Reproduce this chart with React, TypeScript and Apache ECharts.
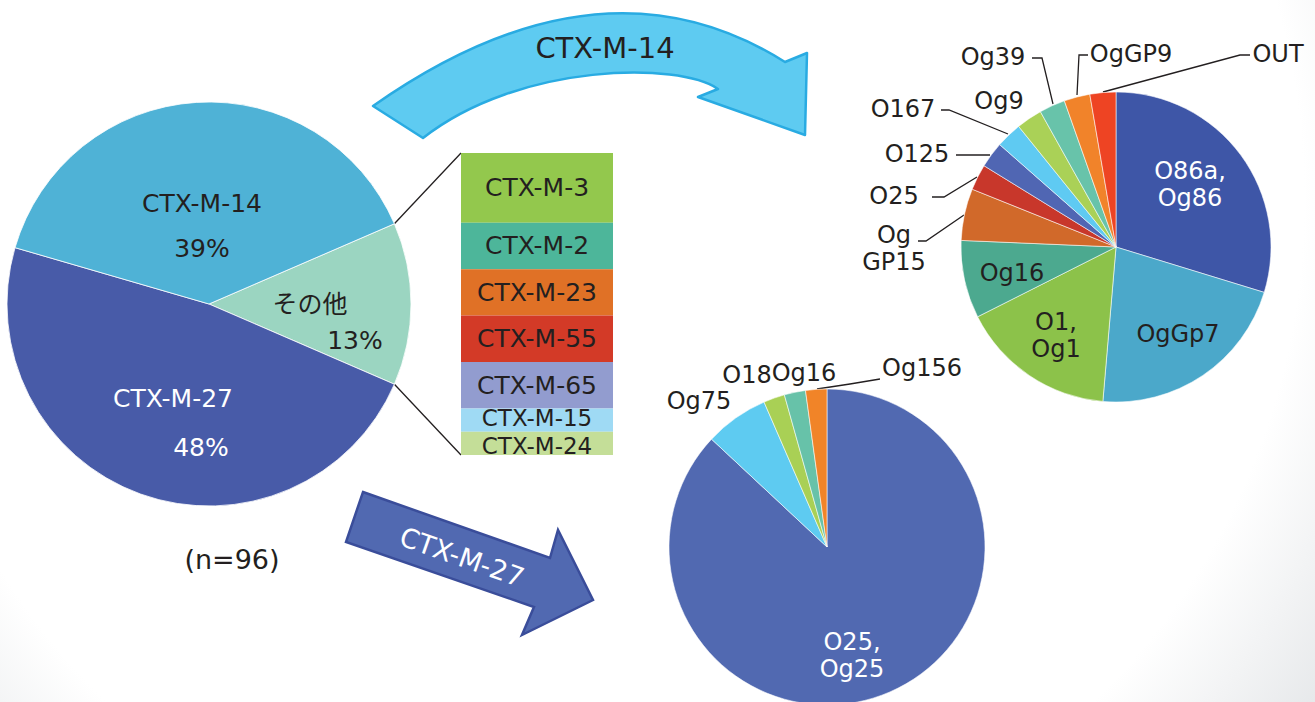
import { useEffect, useRef } from "react";
import * as echarts from "echarts";

const W = 1315;
const H = 702;
const FONT = "'DejaVu Sans', 'Noto Sans CJK JP', sans-serif";
const INK = "#231F20";

// ESBL genotype share among all isolates (n=96), in percent
const mainNames = ["その他", "CTX-M-27", "CTX-M-14"];
const mainValues = [13, 48, 39];
const mainColors = ["#9BD5C1", "#485BA8", "#4FB2D6"];
const mainTextColors = [INK, "#FFFFFF", INK];
const sampleLabel = "(n=96)";

// Breakdown of "その他" (isolate counts)
const otherNames = ["CTX-M-3", "CTX-M-2", "CTX-M-23", "CTX-M-55", "CTX-M-65", "CTX-M-15", "CTX-M-24"];
const otherCounts = [3, 2, 2, 2, 2, 1, 1];
const otherColors = ["#93C84D", "#4DB69A", "#E07126", "#D33A27", "#929CCF", "#9FDAF4", "#C4DE98"];

// O-serotypes among CTX-M-14 producers (isolate counts)
const m14Names = ["O86a,\nOg86", "OgGp7", "O1,\nOg1", "Og16", "Og\nGP15", "O25", "O125", "O167", "Og9", "Og39", "OgGP9", "OUT"];
const m14Counts = [11, 8, 6, 3, 2, 1, 1, 1, 1, 1, 1, 1];
const m14Colors = ["#3E56A7", "#4BA8CA", "#8CC24A", "#4CA98F", "#D1692A", "#C8372B", "#5066B3", "#5FCAF2", "#AAD157", "#68C3AA", "#F1832A", "#EE4423"];
const m14TextColors = ["#FFFFFF", INK, INK, INK, INK, INK, INK, INK, INK, INK, INK, INK];
const m14Inside = [true, true, true, true, false, false, false, false, false, false, false, false];

// O-serotypes among CTX-M-27 producers (isolate counts)
const m27Names = ["O25,\nOg25", "Og75", "O18", "Og16", "Og156"];
const m27Counts = [40, 3, 1, 1, 1];
const m27Colors = ["#5169B1", "#5ECBF1", "#A9D055", "#67C2A9", "#F18428"];
const m27TextColors = ["#FFFFFF", INK, INK, INK, INK];
const m27Inside = [true, false, false, false, false];

// Arrow titles
const arrow14Title = "CTX-M-14";
const arrow27Title = "CTX-M-27";

// ---- layout ----
const MAIN_CENTER: [number, number] = [209, 304];
const MAIN_R = 202;
const BAR_BOX = { left: 461, top: 153, width: 152, height: 302 };
const M14_CENTER: [number, number] = [1116, 247];
const M14_R = 155;
const M27_CENTER: [number, number] = [827, 547];
const M27_R = 158;

// label anchors (block centres) and rich-text settings for the overview pie
const mainLabelPos = [[332.5, 322], [187, 422.5], [202, 225.5]];
const mainLabelLine = [36, 49, 45];
const mainLabelShift = [45, 28, 0];

// stacked-column label sizes / nudges (thin segments get a slightly smaller font)
const barLabelSize = [25, 25, 25, 25, 25, 23, 23];
const barLabelNudge = [0, 0, 0, 0, 0, -2, 3];

const m14LabelPos = [
  [1190, 184.5], [1178, 334], [1056, 335.5], [1012, 273], [894, 248],
  [894, 196], [917, 154], [903, 109], [999, 101], [993, 57], [1131, 54], [1278, 54],
];
const m14Leaders: (number[][] | null)[] = [
  null, null, null, null,
  [[964, 215], [926, 241], [918, 241]],
  [[977, 177], [944, 197], [932, 197]],
  [[990, 155], [972, 155], [956, 155]],
  [[1008, 134], [949, 110], [941, 110]],
  null,
  [[1053, 104], [1042, 58], [1032, 58]],
  [[1077, 95], [1079, 55], [1088, 55]],
  [[1103, 92], [1240, 55], [1250, 55]],
];

const m27LabelPos = [[852, 655.5], [699, 401], [747, 375], [804, 373], [922, 368]];
const m27Leaders: (number[][] | null)[] = [
  null, null, null, null,
  [[817, 389], [850, 384], [880, 379]],
];

const ARROW_14_PATH =
  "M373 106 Q601 -54 785 62 L807 53 L805 135 L698 97 L718 89 C680 62 520 62 423 138 Z";
const ARROW_27_PATH =
  "M363 492 L550 558 L558 530 L593 600 L522 635 L534 607 L346 542 Z";

echarts.graphic.registerShape("arrowCurved", echarts.graphic.extendPath(ARROW_14_PATH, {}));
echarts.graphic.registerShape("arrowStraight", echarts.graphic.extendPath(ARROW_27_PATH, {}));

function buildOption() {
  const mainTotal = mainValues.reduce((a, b) => a + b, 0);
  // centre the "その他" wedge on 3 o'clock
  const mainStart = (360 * mainValues[0]) / mainTotal / 2;
  const toXY = (deg: number) => {
    const a = (deg * Math.PI) / 180;
    return [MAIN_CENTER[0] + MAIN_R * Math.cos(a), MAIN_CENTER[1] - MAIN_R * Math.sin(a)];
  };
  const wedgeTop = toXY(mainStart);
  const wedgeBottom = toXY(-mainStart);

  const mainData = mainNames.map((name, i) => ({
    name,
    value: mainValues[i],
    itemStyle: { color: mainColors[i] },
    label: {
      formatter: "{n|{b}}\n{p|{c}%}",
      rich: {
        n: {
          fontSize: 25, fontFamily: FONT, color: mainTextColors[i],
          lineHeight: mainLabelLine[i], padding: [0, mainLabelShift[i], 0, 0],
        },
        p: {
          fontSize: 25, fontFamily: FONT, color: mainTextColors[i],
          lineHeight: mainLabelLine[i], padding: [0, 0, 0, mainLabelShift[i]],
        },
      },
    },
  }));

  const subData = (
    names: string[], counts: number[], colors: string[], textColors: string[],
    inside: boolean[], leaders: (number[][] | null)[]
  ) =>
    names.map((name, i) => ({
      name,
      value: counts[i],
      itemStyle: { color: colors[i] },
      label: {
        position: inside[i] ? "inside" : "outside",
        color: textColors[i],
        fontSize: 24,
        lineHeight: name.includes("\n") ? 27 : 28,
        fontFamily: FONT,
        formatter: "{b}",
      },
      labelLine: {
        show: !!leaders[i],
        lineStyle: { color: INK, width: 1.3 },
      },
    }));

  const pieLayout = (pos: number[][], leaders: (number[][] | null)[]) => (p: any) => {
    const i = p.dataIndex;
    const out: any = { x: pos[i][0], y: pos[i][1], align: "center", verticalAlign: "middle" };
    if (leaders[i]) out.labelLinePoints = leaders[i];
    return out;
  };

  const barSeries = otherNames.map((name, i) => ({
    type: "bar",
    name,
    stack: "other",
    barWidth: "100%",
    silent: true,
    data: [otherCounts[i]],
    itemStyle: { color: otherColors[i] },
    label: {
      show: true,
      position: "inside",
      formatter: "{a}",
      fontSize: barLabelSize[i],
      offset: [0, barLabelNudge[i]],
      fontFamily: FONT,
      color: INK,
    },
  }));

  const otherTotal = otherCounts.reduce((a, b) => a + b, 0);

  return {
    animation: false,
    textStyle: { fontFamily: FONT },
    grid: { ...BAR_BOX },
    xAxis: { type: "category", data: ["その他"], show: false },
    yAxis: { type: "value", min: 0, max: otherTotal, inverse: true, show: false },
    graphic: [
      {
        type: "rect",
        z: -100,
        silent: true,
        shape: { x: 0, y: 0, width: W, height: H },
        style: {
          fill: new echarts.graphic.RadialGradient(600, 200, 880, [
            { offset: 0, color: "#FFFFFF" },
            { offset: 0.8, color: "#FFFFFF" },
            { offset: 1, color: "#E6E8EA" },
          ], true),
        },
      },
      {
        type: "line",
        silent: true,
        shape: { x1: wedgeTop[0], y1: wedgeTop[1], x2: BAR_BOX.left, y2: BAR_BOX.top },
        style: { stroke: INK, lineWidth: 1.3 },
      },
      {
        type: "line",
        silent: true,
        shape: {
          x1: wedgeBottom[0], y1: wedgeBottom[1],
          x2: BAR_BOX.left, y2: BAR_BOX.top + BAR_BOX.height,
        },
        style: { stroke: INK, lineWidth: 1.3 },
      },
      {
        type: "arrowCurved",
        x: 0, y: 0,
        silent: true,
        style: { fill: "#5ECBF1", stroke: "#29ABE2", lineWidth: 2.5, lineJoin: "round" },
      },
      {
        type: "text",
        x: 605, y: 48,
        silent: true,
        style: {
          text: arrow14Title, fontSize: 29, fontFamily: FONT, fill: INK,
          align: "center", verticalAlign: "middle",
        },
      },
      {
        type: "arrowStraight",
        x: 0, y: 0,
        silent: true,
        style: { fill: "#5169B1", stroke: "#3A4D9A", lineWidth: 2.5, lineJoin: "miter" },
      },
      {
        type: "text",
        x: 462, y: 557,
        rotation: (-19.4 * Math.PI) / 180,
        silent: true,
        style: {
          text: arrow27Title, fontSize: 27, fontFamily: FONT, fill: "#FFFFFF",
          align: "center", verticalAlign: "middle",
        },
      },
      {
        type: "text",
        x: 232, y: 559,
        silent: true,
        style: {
          text: sampleLabel, fontSize: 27, fontFamily: FONT, fill: INK,
          align: "center", verticalAlign: "middle",
        },
      },
    ],
    series: [
      {
        type: "pie",
        center: MAIN_CENTER,
        radius: MAIN_R,
        startAngle: mainStart,
        clockwise: true,
        silent: true,
        avoidLabelOverlap: false,
        emphasis: { disabled: true },
        itemStyle: { borderColor: "#FFFFFF", borderWidth: 0.8 },
        label: { show: true, position: "inside" },
        labelLine: { show: false },
        labelLayout: pieLayout(mainLabelPos, [null, null, null]),
        data: mainData,
      },
      ...barSeries,
      {
        type: "pie",
        center: M14_CENTER,
        radius: M14_R,
        startAngle: 90,
        clockwise: true,
        silent: true,
        avoidLabelOverlap: false,
        emphasis: { disabled: true },
        itemStyle: { borderColor: "rgba(255,255,255,0.7)", borderWidth: 0.8 },
        label: { show: true },
        labelLayout: pieLayout(m14LabelPos, m14Leaders),
        data: subData(m14Names, m14Counts, m14Colors, m14TextColors, m14Inside, m14Leaders),
      },
      {
        type: "pie",
        center: M27_CENTER,
        radius: M27_R,
        startAngle: 90,
        clockwise: true,
        silent: true,
        avoidLabelOverlap: false,
        emphasis: { disabled: true },
        itemStyle: { borderColor: "rgba(255,255,255,0.7)", borderWidth: 0.8 },
        label: { show: true },
        labelLayout: pieLayout(m27LabelPos, m27Leaders),
        data: subData(m27Names, m27Counts, m27Colors, m27TextColors, m27Inside, m27Leaders),
      },
    ],
  };
}

export default function App() {
  const ref = useRef<HTMLDivElement>(null);

  useEffect(() => {
    if (!ref.current) return;
    const chart = echarts.init(ref.current, null, { renderer: "svg" });
    chart.setOption(buildOption() as any);
    return () => chart.dispose();
  }, []);

  return (
    <div
      ref={ref}
      style={{ position: "fixed", left: 0, top: 0, width: W, height: H, background: "#FFFFFF" }}
    />
  );
}
